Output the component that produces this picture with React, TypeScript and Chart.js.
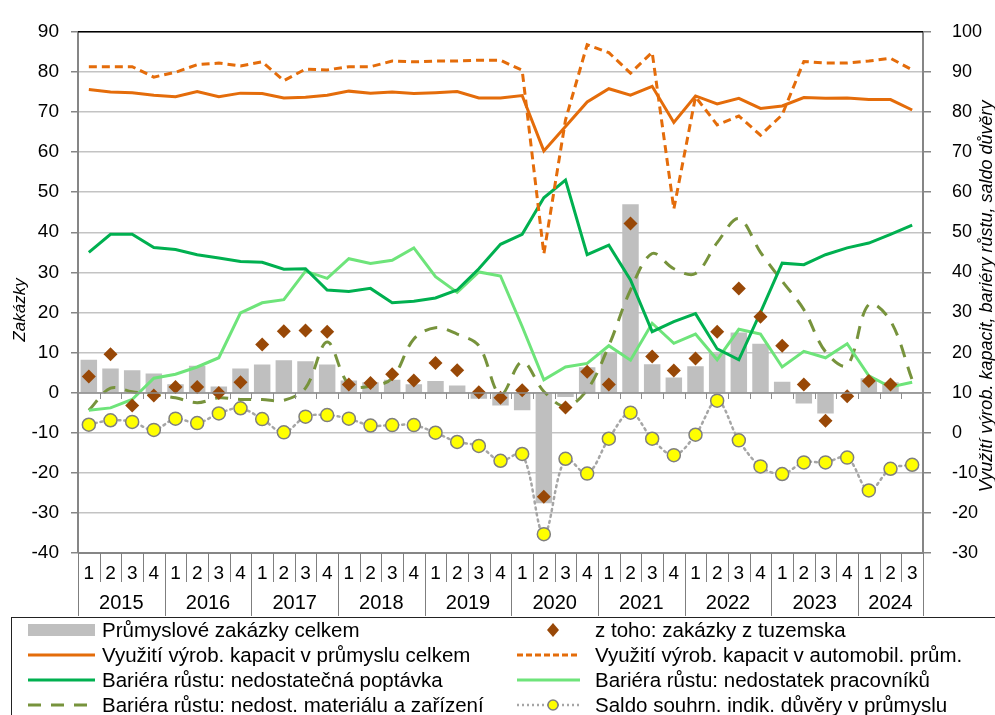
import React, { useEffect, useRef } from "react";
import { Chart, registerables } from "chart.js";

Chart.register(...registerables);

// ---------- data ----------
const quarterLabels = [
  "1", "2", "3", "4", "1", "2", "3", "4", "1", "2", "3", "4", "1", "2", "3", "4",
  "1", "2", "3", "4", "1", "2", "3", "4", "1", "2", "3", "4", "1", "2", "3", "4",
  "1", "2", "3", "4", "1", "2", "3",
];
const yearLabels = ["2015", "2016", "2017", "2018", "2019", "2020", "2021", "2022", "2023", "2024"];
const quartersPerYear = [4, 4, 4, 4, 4, 4, 4, 4, 4, 3];

// left axis (Zakázky)
const leftMin = -40;
const leftMax = 90;
// right axis
const rightMin = -30;
const rightMax = 100;
const tickStep = 10;

const ordersTotal = [
  8.2, 6, 5.6, 4.8, 2.1, 6.7, 1.5, 6, 7, 8.1, 7.8, 7, 3, 2.6, 3.2, 2.1, 2.9, 1.8, -1.5, -3.2,
  -4.4, -27.6, -1.1, 6.3, 10.1, 47, 7.1, 3.8, 6.6, 9.8, 15, 12.2, 2.7, -2.7, -5.2, 0, 3.6, 2.6, null,
];
const ordersDomestic = [
  4, 9.6, -3.2, -0.7, 1.4, 1.4, -0.1, 2.6, 12, 15.3, 15.5, 15.2, 2, 2.4, 4.6, 3, 7.4, 5.6, 0.1, -1.3,
  0.6, -26, -3.7, 5.2, 2, 42.2, 9, 5.5, 8.5, 15.2, 26, 18.9, 11.7, 2, -7, -0.9, 2.9, 2, null,
];
const capUtilTotal = [
  85.6, 85, 84.8, 84.2, 83.8, 85.1, 83.8, 84.7, 84.6, 83.5, 83.7, 84.2, 85.2, 84.7, 85, 84.6, 84.8, 85.1, 83.5, 83.5,
  84.1, 70.3, 76.4, 82.5, 85.8, 84.2, 86.4, 77.4, 84, 82, 83.4, 80.9, 81.5, 83.6, 83.4, 83.5, 83.1, 83.1, 80.5,
];
const capUtilAuto = [
  91.3, 91.3, 91.3, 88.7, 89.9, 91.8, 92.2, 91.5, 92.5, 87.8, 90.7, 90.5, 91.3, 91.3, 92.7, 92.5, 92.7, 92.7, 92.9, 92.9,
  90.4, 44.6, 78, 96.8, 94.8, 89.7, 94.9, 55.8, 83.8, 76.8, 79, 74.2, 79.3, 92.6, 92.2, 92.2, 92.7, 93.4, 90.5,
];
const barrierDemand = [
  45, 49.5, 49.5, 46.2, 45.7, 44.4, 43.6, 42.7, 42.5, 40.8, 40.9, 35.6, 35.2, 36, 32.4, 32.8, 33.6, 35.6, 40.9, 47,
  49.5, 58.6, 63, 44.4, 46.8, 38.1, 25.2, 27.7, 29.7, 20.9, 18.2, 30, 42.3, 41.9, 44.4, 46.1, 47.3, 49.5, 51.8,
];
const barrierLabour = [
  5.6, 6.2, 8.3, 13.6, 14.6, 16.4, 18.7, 29.9, 32.4, 33.2, 40.3, 38.5, 43.4, 42.2, 43, 46.1, 38.9, 35, 40.1, 39.1,
  26.5, 13.2, 16.4, 17.3, 21.7, 18.1, 27.3, 22.3, 24.6, 18.2, 25.8, 24.6, 16.4, 20.3, 18.7, 22.2, 14.2, 11.4, 12.6,
];
const barrierMaterial = [
  5.6, 11.1, 10.2, 9.5, 8.7, 7.5, 8.7, 8.3, 8.3, 8.1, 11.1, 22.6, 12, 11.6, 13.6, 23.4, 26.2, 24.6, 21.7, 9.5,
  17.7, 10.3, 6.6, 10.7, 21.7, 35.6, 44.7, 40.9, 39.7, 47.4, 53.4, 45, 37.8, 30.7, 20.2, 16.8, 32, 27.9, 13.2,
];
const confidence = [
  2, 3.1, 2.7, 0.7, 3.5, 2.4, 4.8, 6.1, 3.4, 0.1, 4, 4.4, 3.5, 1.8, 1.9, 1.9, 0, -2.3, -3.3, -7,
  -5.3, -25.3, -6.5, -10.2, -1.5, 5, -1.5, -5.6, -0.5, 8, -1.9, -8.4, -10.3, -7.4, -7.4, -6.2, -14.4, -9, -8,
];

const leftTitle = "Zakázky";
const rightTitle = "Využití výrob. kapacit, bariéry růstu, saldo důvěry";

// ---------- styles ----------
const FONT = "'Liberation Sans', Arial, sans-serif";
const C_BAR = "#bfbfbf";
const C_DIAMOND = "#984807";
const C_ORANGE = "#e46c0a";
const C_DGREEN = "#00b050";
const C_LGREEN = "#6ee47a";
const C_OLIVE = "#77933c";
const C_DOT = "#a6a6a6";
const C_YELLOW = "#ffff00";
const C_AXIS = "#868686";
const C_GRID = "#c3c3c3";

const customAxisPlugin = {
  id: "customAxis",
  afterDraw(chart: any) {
    const { ctx, chartArea: a, scales } = chart;
    const xs = scales.x;
    const ys = scales.y;
    const n = chart.data.labels.length;
    const w = (a.right - a.left) / n;
    const line = (x1: number, y1: number, x2: number, y2: number) => {
      ctx.beginPath();
      ctx.moveTo(x1, y1);
      ctx.lineTo(x2, y2);
      ctx.stroke();
    };
    ctx.save();
    // top border
    ctx.strokeStyle = "#000";
    ctx.lineWidth = 1.5;
    line(a.left, a.top, a.right, a.top);
    // zero axis line with ticks
    const y0 = Math.round(ys.getPixelForValue(0));
    ctx.strokeStyle = "#8c8c8c";
    ctx.lineWidth = 1.5;
    line(a.left, y0, a.right, y0);
    ctx.lineWidth = 1;
    for (let k = 0; k <= n; k++) {
      const xk = Math.round(a.left + k * w) + 0.5;
      line(xk, y0, xk, y0 + 6);
    }
    // bottom axis
    ctx.strokeStyle = C_AXIS;
    ctx.lineWidth = 2;
    line(a.left, a.bottom, a.right, a.bottom);
    // separators
    const yearBounds = new Set<number>();
    let acc = 0;
    yearBounds.add(0);
    quartersPerYear.forEach((q) => {
      acc += q;
      yearBounds.add(acc);
    });
    ctx.lineWidth = 1;
    ctx.strokeStyle = "#7f7f7f";
    for (let k = 0; k <= n; k++) {
      const xk = Math.round(a.left + k * w) + 0.5;
      line(xk, a.bottom, xk, a.bottom + (yearBounds.has(k) ? 63 : 29));
    }
    // quarter labels
    ctx.fillStyle = "#000";
    ctx.textAlign = "center";
    ctx.textBaseline = "middle";
    ctx.font = `19px ${FONT}`;
    chart.data.labels.forEach((l: string, i: number) => {
      ctx.fillText(l, xs.getPixelForValue(i), a.bottom + 21);
    });
    // year labels
    ctx.font = `20px ${FONT}`;
    let start = 0;
    yearLabels.forEach((yr, j) => {
      const c = quartersPerYear[j];
      const cx = (a.left + start * w + a.left + (start + c) * w) / 2;
      ctx.fillText(yr, cx, a.bottom + 50);
      start += c;
    });
    // axis titles
    ctx.font = `italic 17px ${FONT}`;
    ctx.save();
    ctx.translate(20, 310);
    ctx.rotate(-Math.PI / 2);
    ctx.fillText(leftTitle, 0, 0);
    ctx.restore();
    ctx.font = `italic 18px ${FONT}`;
    ctx.save();
    ctx.translate(987, (a.top + a.bottom) / 2 + 4);
    ctx.rotate(-Math.PI / 2);
    ctx.fillText(rightTitle, 0, 0);
    ctx.restore();
    ctx.restore();
  },
};

function LegendSwatches() {
  const rows = [630, 655, 680, 705];
  const top = 617;
  const r = (v: number) => v - top;
  return (
    <svg
      width={995}
      height={98}
      style={{ position: "absolute", left: 0, top: top, overflow: "visible" }}
    >
      <rect x={28} y={r(rows[0]) - 6} width={67} height={12} fill={C_BAR} />
      <path
        d={`M553 ${r(rows[0]) - 7} L559 ${r(rows[0])} L553 ${r(rows[0]) + 7} L547 ${r(rows[0])} Z`}
        fill={C_DIAMOND}
      />
      <line x1={28} x2={95} y1={r(rows[1])} y2={r(rows[1])} stroke={C_ORANGE} strokeWidth={3} />
      <line x1={517} x2={580} y1={r(rows[1])} y2={r(rows[1])} stroke={C_ORANGE} strokeWidth={3} strokeDasharray="6 3" />
      <line x1={28} x2={95} y1={r(rows[2])} y2={r(rows[2])} stroke={C_DGREEN} strokeWidth={3} />
      <line x1={517} x2={580} y1={r(rows[2])} y2={r(rows[2])} stroke={C_LGREEN} strokeWidth={3} />
      <line x1={28} x2={95} y1={r(rows[3])} y2={r(rows[3])} stroke={C_OLIVE} strokeWidth={3} strokeDasharray="13 10" />
      <line x1={517} x2={580} y1={r(rows[3])} y2={r(rows[3])} stroke={C_DOT} strokeWidth={2.5} strokeDasharray="2 3" />
      <circle cx={553} cy={r(rows[3])} r={5} fill={C_YELLOW} stroke="#7f7f7f" strokeWidth={1.5} />
    </svg>
  );
}

export default function App() {
  const canvasRef = useRef<HTMLCanvasElement | null>(null);

  useEffect(() => {
    if (!canvasRef.current) return;
    const lineBase = {
      type: "line" as const,
      yAxisID: "y1",
      pointRadius: 0,
      pointHoverRadius: 0,
      fill: false,
      borderWidth: 3,
      tension: 0,
    };
    const chart = new Chart(canvasRef.current, {
      data: {
        labels: quarterLabels,
        datasets: [
          {
            ...lineBase,
            label: "Saldo souhrn. indik. důvěry v průmyslu",
            data: confidence,
            borderColor: C_DOT,
            borderWidth: 2.5,
            borderDash: [2, 4],
            borderCapStyle: "round",
            tension: 0.35,
            pointRadius: 6.5,
            pointBackgroundColor: C_YELLOW,
            pointBorderColor: "#7f7f7f",
            pointBorderWidth: 1.5,
            order: 0,
          },
          {
            type: "line",
            label: "z toho: zakázky z tuzemska",
            data: ordersDomestic,
            yAxisID: "y",
            showLine: false,
            pointStyle: "rectRot",
            pointRadius: 7,
            pointBackgroundColor: C_DIAMOND,
            pointBorderWidth: 0,
            borderColor: C_DIAMOND,
            order: 1,
          },
          {
            ...lineBase,
            label: "Využití výrob. kapacit v automobil. prům.",
            data: capUtilAuto,
            borderColor: C_ORANGE,
            borderDash: [8, 5],
            order: 2,
          },
          {
            ...lineBase,
            label: "Využití výrob. kapacit v průmyslu celkem",
            data: capUtilTotal,
            borderColor: C_ORANGE,
            order: 3,
          },
          {
            ...lineBase,
            label: "Bariéra růstu: nedostatečná poptávka",
            data: barrierDemand,
            borderColor: C_DGREEN,
            order: 4,
          },
          {
            ...lineBase,
            label: "Bariéra růstu: nedostatek pracovníků",
            data: barrierLabour,
            borderColor: C_LGREEN,
            order: 5,
          },
          {
            ...lineBase,
            label: "Bariéra růstu: nedost. materiálu a zařízení",
            data: barrierMaterial,
            borderColor: C_OLIVE,
            borderDash: [13, 10],
            tension: 0.35,
            order: 6,
          },
          {
            type: "bar",
            label: "Průmyslové zakázky celkem",
            data: ordersTotal,
            yAxisID: "y",
            backgroundColor: C_BAR,
            borderWidth: 0,
            barPercentage: 0.76,
            categoryPercentage: 1,
            order: 10,
          },
        ] as any,
      },
      options: {
        animation: false,
        responsive: false,
        maintainAspectRatio: false,
        layout: { padding: { top: 22, left: 0, right: 0, bottom: 0 } },
        plugins: {
          legend: { display: false },
          tooltip: { enabled: false },
          title: { display: false },
        },
        scales: {
          x: {
            type: "category",
            offset: true,
            grid: { display: false },
            border: { display: false },
            ticks: { display: false },
            afterFit: (s: any) => {
              s.height = 162;
            },
          },
          y: {
            position: "left",
            min: leftMin,
            max: leftMax,
            ticks: {
              stepSize: tickStep,
              color: "#000",
              font: { family: FONT, size: 19 },
              padding: 12,
            },
            grid: {
              color: C_GRID,
              lineWidth: 1.5,
              tickLength: 7,
              tickColor: C_AXIS,
            },
            border: { color: C_AXIS, width: 2 },
            afterFit: (s: any) => {
              s.width = 78;
            },
          },
          y1: {
            position: "right",
            min: rightMin,
            max: rightMax,
            ticks: {
              stepSize: tickStep,
              color: "#000",
              font: { family: FONT, size: 18 },
              padding: 21,
            },
            grid: {
              drawOnChartArea: false,
              tickLength: 8,
              tickColor: C_AXIS,
              lineWidth: 1.5,
            },
            border: { color: C_AXIS, width: 2 },
            afterFit: (s: any) => {
              s.width = 72;
            },
          },
        },
      } as any,
      plugins: [customAxisPlugin],
    });
    return () => chart.destroy();
  }, []);

  const legendText: React.CSSProperties = {
    position: "absolute",
    fontFamily: FONT,
    fontSize: 20.5,
    lineHeight: "24px",
    color: "#000",
    whiteSpace: "nowrap",
  };
  const rows = [630, 655, 680, 705];
  const leftItems = [
    "Průmyslové zakázky celkem",
    "Využití výrob. kapacit v průmyslu celkem",
    "Bariéra růstu: nedostatečná poptávka",
    "Bariéra růstu: nedost. materiálu a zařízení",
  ];
  const rightItems = [
    "z toho: zakázky z tuzemska",
    "Využití výrob. kapacit v automobil. prům.",
    "Bariéra růstu: nedostatek pracovníků",
    "Saldo souhrn. indik. důvěry v průmyslu",
  ];

  return (
    <div
      style={{
        position: "fixed",
        left: 0,
        top: 0,
        width: 995,
        height: 715,
        overflow: "hidden",
        background: "#fff",
      }}
    >
      <canvas ref={canvasRef} width={995} height={715} style={{ display: "block" }} />
      <div
        style={{
          position: "absolute",
          left: 11,
          top: 617,
          width: 1000,
          height: 120,
          border: "1px solid #222",
          boxSizing: "border-box",
        }}
      />
      <LegendSwatches />
      {leftItems.map((t, i) => (
        <div key={"l" + i} style={{ ...legendText, left: 102, top: rows[i] - 12 }}>
          {t}
        </div>
      ))}
      {rightItems.map((t, i) => (
        <div key={"r" + i} style={{ ...legendText, left: 595, top: rows[i] - 12 }}>
          {t}
        </div>
      ))}
    </div>
  );
}
